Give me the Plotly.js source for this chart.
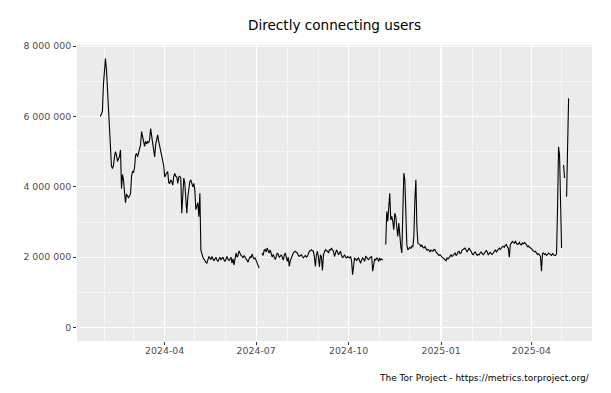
<!DOCTYPE html>
<html>
<head>
<meta charset="utf-8">
<script src="https://cdn.plot.ly/plotly-3.0.1.min.js"></script>
<style>html,body{margin:0;padding:0;background:#fff;}#chart{width:611px;height:393px;}</style>
</head>
<body>
<div id="chart"></div>
<script>
// Daily series, first day:
const startDate = "2024-01-28";
// Directly connecting users, in thousands, one value per day (null = no data)
const usersThousands = [
  6000, 6100, 6150, 6900, 7400, 7650, 7350, 6800, 6100, 5500, // d0
  5000, 4600, 4520, 4600, 4850, 5000, 4900, 4720, 4800, 4860, // d10
  5050, 3950, 4350, 4200, 3850, 3550, 3800, 3720, 3680, 3750, // d20
  3800, 4300, 4450, 4400, 4550, 4900, 4950, 4850, 5000, 5100, // d30
  5200, 5570, 5400, 5200, 5150, 5300, 5220, 5280, 5250, 5350, // d40
  5660, 5450, 5280, 5050, 4850, 5200, 5380, 5480, 5300, 5150, // d50
  5000, 4900, 4700, 4600, 4280, 4350, 4400, 4430, 4120, 4100, // d60
  4200, 4150, 4050, 4300, 4380, 4300, 4280, 4100, 4280, 4300, // d70
  4250, 3250, 3700, 4250, 4100, 3600, 3250, 3700, 4000, 4150, // d80
  4200, 4100, 4000, 4100, 3900, 3350, 3450, 3550, 3150, 3820, // d90
  2200, 2050, 2000, 1950, 1880, 1850, 1830, 1950, 2020, 1980, // d100
  1930, 2020, 1970, 1900, 1950, 2000, 1920, 1880, 1950, 2000, // d110
  1930, 1970, 2000, 1920, 1880, 1950, 2020, 1950, 1900, 1950, // d120
  2000, 1830, 1950, 1780, 1950, 2120, 2000, 2050, 2180, 2100, // d130
  2050, 2020, 1980, 2050, 2000, 1920, 1900, 1860, 1950, 2020, // d140
  1980, 2090, 2000, 1950, 1980, 1920, 1850, 1790, 1690, null, // d150
  null, 2120, 2050, 2200, 2220, 2150, 2260, 2180, 2120, 2210, // d160
  2100, 2000, 2080, 2020, 1930, 2020, 2120, 2080, 2000, 2030, // d170
  2070, 2000, 1920, 2050, 2120, 2000, 1880, 2000, 1740, 1900, // d180
  1980, 2050, 2120, 2150, 2170, 2140, 2120, 2050, 2020, 2050, // d190
  2070, 2020, 1980, 2020, 2050, 2000, 2020, 2100, 2170, 2180, // d200
  2210, 2180, 2170, 2000, 1740, 2070, 2170, 2000, 1720, 2070, // d210
  2000, 1620, 2070, 2150, 2210, 2180, 2170, 2120, 2210, 2200, // d220
  2260, 2200, 2170, 2020, 2120, 2210, 2150, 2070, 2120, 2170, // d230
  2050, 1980, 2020, 2070, 2000, 1980, 2020, 2000, 1980, 2020, // d240
  1900, 1500, 1750, 1980, 1950, 1900, 1950, 1980, 1900, 1830, // d250
  1920, 1980, 1950, 1880, 2020, 2000, 1950, 1930, 1980, 2000, // d260
  2020, 1600, 1850, 1950, 1920, 1980, 1950, 1880, 1980, 1920, // d270
  1950, 1920, null, null, 2360, 3300, 3020, 3500, 3820, 3060, // d280
  3160, 3020, 2780, 3250, 3150, 2850, 2590, 2970, 2590, 2300, // d290
  2120, 3200, 4390, 4200, 2870, 2350, 2210, 2260, 2280, 2250, // d300
  2310, 2300, 2600, 3630, 4200, 2870, 2400, 2380, 2360, 2300, // d310
  2350, 2280, 2260, 2300, 2250, 2200, 2220, 2200, 2150, 2200, // d320
  2180, 2170, 2220, 2210, 2150, 2120, 2100, 2050, 2070, 2020, // d330
  2000, 1980, 1950, 1930, 1900, 1980, 1950, 1980, 2040, 2070, // d340
  2020, 2050, 2100, 2120, 2050, 2080, 2150, 2170, 2100, 2120, // d350
  2200, 2210, 2240, 2260, 2180, 2150, 2200, 2260, 2200, 2170, // d360
  2100, 2070, 2120, 2150, 2100, 2050, 2080, 2070, 2120, 2150, // d370
  2100, 2070, 2100, 2180, 2200, 2150, 2070, 2100, 2150, 2100, // d380
  2080, 2120, 2180, 2210, 2150, 2200, 2240, 2260, 2220, 2280, // d390
  2300, 2310, 2280, 2340, 2360, 2300, 2250, 2000, 2360, 2400, // d400
  2450, 2420, 2400, 2450, 2400, 2360, 2380, 2420, 2360, 2350, // d410
  2400, 2380, 2420, 2400, 2360, 2300, 2320, 2280, 2260, 2250, // d420
  2200, 2180, 2150, 2170, 2120, 2080, 2100, 2070, 2020, 1600, // d430
  2100, 2120, 2080, 2100, 2050, 2070, 2120, 2100, 2080, 2050, // d440
  2100, 2070, 2050, 2050, 2100, 3400, 5140, 4900, 3580, 2260, // d450
  null, 4620, 4250, null, 3720, 5000, 6520                    // d460
];
const yTickValues = [0, 2000000, 4000000, 6000000, 8000000];
const xTickLabelFormat = "%Y-%m";
const titleText = "Directly connecting users";
const captionText = "The Tor Project - https://metrics.torproject.org/";

// build date strings for each day
const t0 = Date.parse(startDate + "T00:00:00Z");
const dates = usersThousands.map((_, i) => new Date(t0 + i * 86400000).toISOString().slice(0, 10));
const users = usersThousands.map(v => v === null ? null : v * 1000);

const font = "DejaVu Sans, Verdana, sans-serif";

const trace = {
  x: dates, y: users, type: "scatter", mode: "lines",
  line: {color: "#000000", width: 1.1},
  connectgaps: false, hoverinfo: "skip"
};

const layout = {
  width: 611, height: 393,
  margin: {l: 77, r: 19, t: 45, b: 52, pad: 0},
  paper_bgcolor: "#FFFFFF", plot_bgcolor: "#EBEBEB",
  separators: ". ",
  showlegend: false,
  font: {family: font, color: "#4D4D4D", size: 9.4},
  title: {text: titleText, x: 0.5, xref: "paper", xanchor: "center",
          y: 1 - 25/393, yref: "container", yanchor: "middle",
          font: {family: font, size: 13.6, color: "#000000"}},
  xaxis: {
    type: "date",
    range: ["2024-01-04 17:00", "2025-05-31 07:00"],
    tick0: "2024-01-01", dtick: "M3", tickformat: xTickLabelFormat,
    ticks: "outside", ticklen: 3, tickwidth: 1, tickcolor: "#333333",
    ticklabelstandoff: -2,
    showgrid: true, gridcolor: "#FFFFFF", gridwidth: 1.1,
    minor: {tick0: "2024-01-01", dtick: "M1", showgrid: true, gridcolor: "#FFFFFF", gridwidth: 0.55, ticks: ""},
    zeroline: false, showline: false,
    tickfont: {family: font, size: 9.4, color: "#4D4D4D"}
  },
  yaxis: {
    range: [-382500, 8032500],
    tickvals: yTickValues, tickformat: ",d",
    ticks: "outside", ticklen: 3, tickwidth: 1, tickcolor: "#333333",
    showgrid: true, gridcolor: "#FFFFFF", gridwidth: 1.1,
    minor: {tick0: 0, dtick: 1000000, showgrid: true, gridcolor: "#FFFFFF", gridwidth: 0.55, ticks: ""},
    zeroline: false, showline: false,
    tickfont: {family: font, size: 9.4, color: "#4D4D4D"}
  },
  annotations: [{
    text: captionText, xref: "paper", yref: "paper", x: 1, y: -0.125,
    xanchor: "right", yanchor: "middle", showarrow: false,
    font: {family: font, size: 9.0, color: "#000000"}
  }]
};

Plotly.newPlot("chart", [trace], layout, {staticPlot: true, displayModeBar: false});
</script>
</body>
</html>
